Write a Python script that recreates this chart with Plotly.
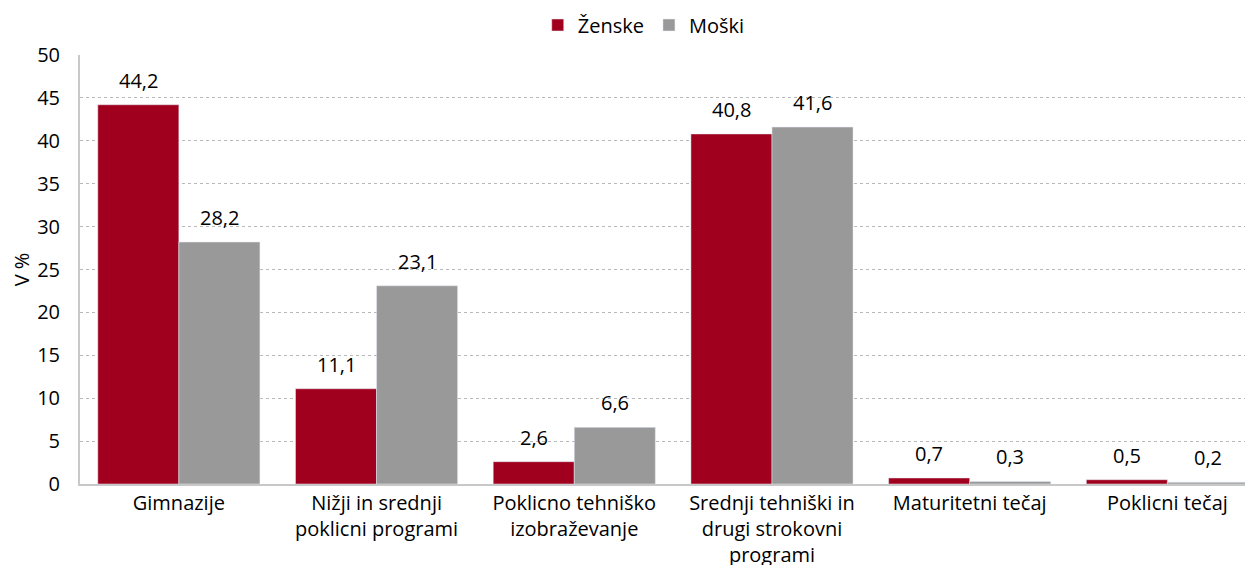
import plotly.graph_objects as go

categories = ["Gimnazije", "Nižji in srednji<br>poklicni programi", "Poklicno tehniško<br>izobraževanje",
              "Srednji tehniški in<br>drugi strokovni<br>programi", "Maturitetni tečaj", "Poklicni tečaj"]
zenske = [44.2, 11.1, 2.6, 40.8, 0.7, 0.5]
moski = [28.2, 23.1, 6.6, 41.6, 0.3, 0.2]
y_ticks = [0, 5, 10, 15, 20, 25, 30, 35, 40, 45, 50]

FONT = "Open Sans"
# the page body has an 8px margin, so the figure starts at (8, 8)
W, H = 1245, 557
ML, MR, MT, MB = 72, 0, 47, 81
BARGAP = 0.18
FS = 20
X_RANGE = [-0.5, 5.433]  # plot area is cut at the right edge of the image

def fmt(v):
    return [f"{x:.1f}".replace(".", ",") for x in v]

fig = go.Figure()
fig.add_trace(go.Bar(name="Ženske", x=categories, y=zenske, marker_color="#A0001E"))
fig.add_trace(go.Bar(name="Moški", x=categories, y=moski, marker_color="#999999"))

# value labels above bars, offset by half a bar width (derived from layout)
cat_w = (W - ML - MR) / (X_RANGE[1] - X_RANGE[0])
bar_w = cat_w * (1 - BARGAP) / 2
for vals, sign in ((zenske, -1), (moski, 1)):
    for c, v, t in zip(categories, vals, fmt(vals)):
        fig.add_annotation(x=c, y=v, text=t, showarrow=False, xshift=sign * bar_w / 2,
                           yanchor="bottom", yshift=9, font=dict(size=FS, family=FONT, color="#000"))

fig.update_layout(
    width=W, height=H,
    margin=dict(l=ML, r=MR, t=MT, b=MB),
    plot_bgcolor="white", paper_bgcolor="white",
    barmode="group", bargap=BARGAP, bargroupgap=0,
    font=dict(family=FONT, size=FS, color="#000"),
    legend=dict(orientation="h", x=0.4806, xanchor="center", y=1 - 17 / H, yanchor="middle",
                yref="container", font=dict(size=FS), tracegroupgap=0),
    showlegend=True,
)
fig.update_xaxes(range=X_RANGE, showline=True, linecolor="#c8c8c8", linewidth=2, showgrid=False,
                 tickfont=dict(size=FS), ticks="", automargin=False)
fig.update_yaxes(range=[0, 50], tickvals=y_ticks, showline=True, linecolor="#c8c8c8", linewidth=2,
                 showgrid=True, gridcolor="#b8b8b8", griddash="dot", gridwidth=1,
                 zeroline=False, ticks="", ticklabelstandoff=14, tickfont=dict(size=FS),
                 title=dict(text="V %", font=dict(size=FS), standoff=12), automargin=False)

fig.write_html("out.html")
